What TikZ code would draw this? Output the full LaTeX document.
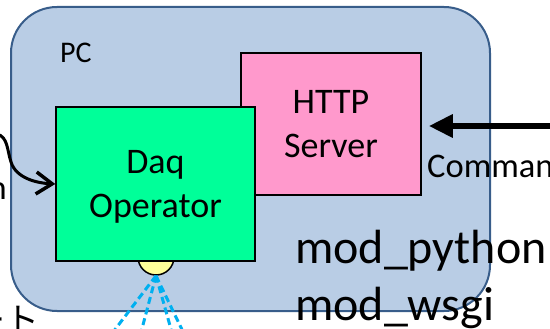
\documentclass[tikz,border=0pt]{standalone}
\usepackage{fontspec}
\setmainfont{Carlito}
\newfontfamily\jpfont{Noto Sans CJK JP}
\usetikzlibrary{arrows.meta}
\definecolor{pcfill}{HTML}{B9CDE5}
\definecolor{pcline}{HTML}{385D8A}
\definecolor{httpfill}{HTML}{FF99CC}
\definecolor{daqfill}{HTML}{00FF99}
\definecolor{portfill}{HTML}{FFFF99}
\definecolor{linkblue}{HTML}{00B0F0}

\begin{document}
\begin{tikzpicture}[x=1pt,y=-1pt,
  pcbox/.style={draw=pcline, fill=pcfill, line width=2pt, rounded corners=46pt,
    minimum width=479pt, minimum height=304pt},
  compbox/.style={draw=black, line width=1.5pt, align=center, text depth=0pt,
    font=\fontsize{36}{44}\selectfont},
  lbl/.style={inner sep=0pt, anchor=base west},
  link/.style={draw=linkblue, line width=3pt, dash pattern=on 7pt off 4pt}
  ]
  \useasboundingbox (0,0) rectangle (550,329);
  \clip (0,0) rectangle (550,329);
  \node[pcbox] (pc) at (250.5,159) {};
  \node[lbl, font=\fontsize{30}{36}\selectfont] (pclbl) at (60,63) {PC};
  \node[compbox, fill=httpfill, minimum width=180pt, minimum height=142pt] (http) at (331,124) {HTTP\\Server};
  \node[circle, draw=black, line width=1.5pt, fill=portfill, minimum size=36pt, inner sep=0pt] (port) at (156,257) {};
  \node[compbox, fill=daqfill, minimum width=199pt, minimum height=154pt] (daq) at (155.5,184) {Daq\\Operator};
  % text cut by the picture edge
  \node[lbl, font=\fontsize{34.5}{41}\selectfont] (cmdlbl) at (427,178) {Command};
  \node[lbl, anchor=base east, font=\fontsize{34.5}{41}\selectfont] (nlbl) at (7,200) {n};
  \node[lbl, anchor=base east, font=\jpfont\fontsize{34}{41}\selectfont] (jplbl) at (40,332) {ート};
  \node[lbl, font=\fontsize{48}{57}\selectfont] (modpy) at (295,263) {mod\_python};
  \node[lbl, font=\fontsize{48}{57}\selectfont] (modwsgi) at (295,320) {mod\_wsgi};
  \coordinate (cmdin) at (560,126);
  \coordinate (evin) at (-3,134);
  \foreach \x [count=\i] in {107,139,174,187} \coordinate (l\i) at (\x,340);
  \draw[line width=6pt, -{Triangle[length=24pt,width=22pt]}, shorten >=7pt] (cmdin) -- (http.east |- cmdin);
  \draw[line width=3pt, line cap=round, -{Straight Barb[length=16pt,width=22pt,line width=3.5pt]}]
    (evin) .. controls (8,137) and (7,150) .. (11,162) .. controls (16,178) and (36,183) .. (daq.west);
  \foreach \i in {1,...,4} \draw[link] (port.south) -- (l\i);
\end{tikzpicture}
\end{document}
